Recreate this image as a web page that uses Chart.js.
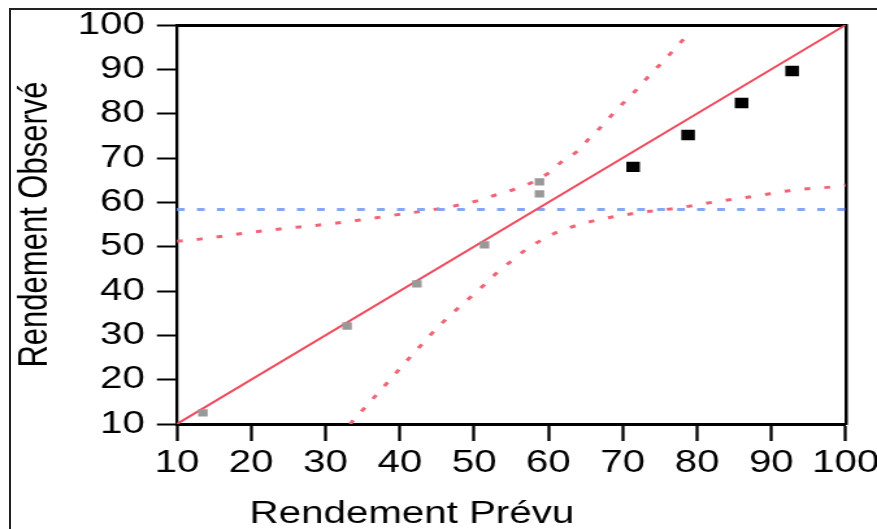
<!DOCTYPE html>
<html>
<head>
<meta charset="utf-8">
<script src="https://cdn.jsdelivr.net/npm/chart.js@4/dist/chart.umd.min.js"></script>
<style>
  body { margin: 0; background: #fff; width: 877px; height: 529px; overflow: hidden; position: relative; }
  #frame { position: absolute; left: 9px; top: 8px; width: 868px; height: 521px; border-left: 2px solid #222; border-top: 2px solid #222; }
  /* the source picture is stretched sideways, so the chart is drawn narrower and widened */
  #wrap { position: absolute; left: 0; top: 0; width: 675px; height: 529px; transform: scaleX(1.2993); transform-origin: 0 0; }
</style>
</head>
<body>
<div id="frame"></div>
<div id="wrap"><canvas id="c" width="675" height="529"></canvas></div>
<script>
const tickValues = [10, 20, 30, 40, 50, 60, 70, 80, 90, 100];

// observed vs predicted
const predBlack = [71.4, 78.8, 86.0, 92.8];
const obsBlack  = [68.0, 75.2, 82.4, 89.6];
const predGrey  = [13.5, 32.9, 42.3, 51.4, 58.8, 58.8];
const obsGrey   = [12.5, 32.1, 41.6, 50.4, 61.9, 64.6];

// fit line and mean line
const fitX  = [10, 100];
const fitY  = [10, 100];
const meanX = [10, 100];
const meanY = [58.4, 58.4];

// confidence curves
const upperX = [10, 13.1, 18.5, 23.9, 29.2, 34.6, 40.0, 45.4, 50.8, 52.8, 55.5, 57.9, 60.0, 61.9, 63.8, 65.5, 67.3, 68.9, 70.5, 72.2, 73.9, 75.4, 77.1, 78.7];
const upperY = [51.2, 51.7, 52.9, 54.0, 54.9, 56.0, 57.3, 58.6, 60.5, 61.6, 63.0, 64.6, 66.6, 69.3, 71.4, 74.4, 77.4, 80.4, 83.1, 86.0, 89.2, 91.7, 94.8, 97.7];
const lowerX = [33.3, 37.3, 41.3, 45.4, 51.5, 53.2, 55.2, 57.1, 59.3, 61.5, 64.0, 66.5, 71.9, 77.3, 82.4, 87.8, 93.2, 98.3, 100];
const lowerY = [10.0, 17.4, 24.9, 32.3, 41.6, 44.3, 47.0, 49.5, 51.7, 53.5, 54.9, 56.0, 57.6, 58.7, 60.1, 61.4, 62.8, 63.5, 63.9];

const pts = (xs, ys) => xs.map((x, i) => ({ x: x, y: ys[i] }));
const setTicks = s => { s.ticks = tickValues.map(v => ({ value: v })); };
const font = { family: "'Liberation Sans', Arial, sans-serif", size: 31 };
const xTitleShift = -76.5;

const line = { showLine: true, pointRadius: 0, fill: false };

// move the x title left of centre, as in the source
const titleShift = {
  id: 'titleShift',
  afterLayout(chart) {
    const s = chart.scales.x;
    if (s._shifted) return;
    const draw = s.drawTitle;
    s.drawTitle = function () {
      const c = this.ctx;
      c.save();
      c.translate(xTitleShift, 0);
      draw.call(this);
      c.restore();
    };
    s._shifted = true;
  }
};

new Chart(document.getElementById('c'), {
  type: 'scatter',
  data: {
    datasets: [
      { data: pts(predBlack, obsBlack), pointStyle: 'rect', pointRadius: 7.4, backgroundColor: '#000', borderWidth: 0 },
      { data: pts(predGrey, obsGrey), pointStyle: 'rect', pointRadius: 5.2, backgroundColor: '#999', borderWidth: 0 },
      { ...line, data: pts(fitX, fitY), borderColor: '#f04a5e', borderWidth: 2 },
      { ...line, data: pts(meanX, meanY), borderColor: '#85a6f2', borderWidth: 3, borderDash: [6, 9.4] },
      { ...line, data: pts(upperX, upperY), borderColor: '#f06474', borderWidth: 3, borderDash: [4.5, 10.9], cubicInterpolationMode: 'monotone' },
      { ...line, data: pts(lowerX, lowerY), borderColor: '#f06474', borderWidth: 3, borderDash: [4.5, 10.9], cubicInterpolationMode: 'monotone' }
    ]
  },
  options: {
    responsive: false,
    animation: false,
    layout: { padding: { left: 0, top: 25, right: 24.2, bottom: 0 } },
    plugins: { legend: { display: false }, tooltip: { enabled: false } },
    scales: {
      x: {
        type: 'linear', min: 10, max: 100,
        afterBuildTicks: setTicks,
        ticks: { autoSkip: false, maxRotation: 0, color: '#000', font: font, padding: 4 },
        grid: { drawOnChartArea: false, drawTicks: true, tickLength: 17, tickWidth: 2.3, tickColor: '#000' },
        border: { color: '#000', width: 3 },
        title: { display: true, text: 'Rendement Prévu', color: '#000', font: { ...font, lineHeight: 0.95 }, padding: 0 },
        afterFit: s => { s.height = 105; s.paddingLeft = 0; s.paddingRight = 0; }
      },
      y: {
        type: 'linear', min: 10, max: 100,
        afterBuildTicks: setTicks,
        ticks: { color: '#000', font: font, padding: 9.3 },
        grid: { drawOnChartArea: false, drawTicks: true, tickLength: 15.4, tickWidth: 2, tickColor: '#000' },
        border: { color: '#000', width: 2.3 },
        title: { display: true, text: 'Rendement Observé', color: '#000', font: font, padding: { top: 9.2, bottom: 0 } },
        afterFit: s => { s.width = 136.15; s.paddingTop = 0; s.paddingBottom = 0; }
      },
      x2: {
        type: 'linear', axis: 'x', position: 'top', min: 10, max: 100,
        ticks: { display: false },
        grid: { drawOnChartArea: false, drawTicks: false },
        border: { color: '#000', width: 3 },
        afterFit: s => { s.height = 0; s.paddingLeft = 0; s.paddingRight = 0; }
      },
      y2: {
        type: 'linear', axis: 'y', position: 'right', min: 10, max: 100,
        ticks: { display: false },
        grid: { drawOnChartArea: false, drawTicks: false },
        border: { color: '#000', width: 2.5 },
        afterFit: s => { s.width = 0; s.paddingTop = 0; s.paddingBottom = 0; }
      }
    }
  },
  plugins: [titleShift]
});
</script>
</body>
</html>
